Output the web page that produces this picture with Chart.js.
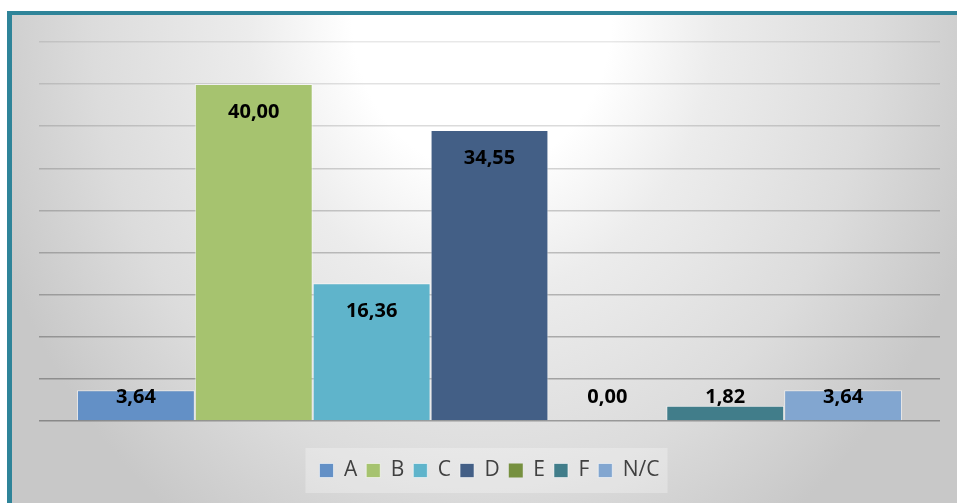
<!DOCTYPE html>
<html>
<head>
<meta charset="utf-8">
<script src="https://cdn.jsdelivr.net/npm/chart.js@4"></script>
<style>
  html, body { margin: 0; padding: 0; background: #ffffff; }
  body { width: 957px; height: 503px; position: relative; overflow: hidden; }
  #frame {
    position: absolute; left: 7px; top: 11px; width: 960px; height: 500px;
    border-left: 5px solid #2f8499; border-top: 4px solid #2f8499;
    background: radial-gradient(ellipse 520px 620px at 470px 0px,
      #ffffff 0%, #ffffff 25%, #ececec 45%, #dcdcdc 75%, #c8c8c8 100%);
  }
  #wrap { position: absolute; left: 0; top: 0; width: 957px; height: 503px; }
</style>
</head>
<body>
<div id="frame"></div>
<div id="wrap"><canvas id="chartNotas" width="957" height="503"></canvas></div>
<script>
const categories = ['A', 'B', 'C', 'D', 'E', 'F', 'N/C'];
const values = [3.64, 40.00, 16.36, 34.55, 0.00, 1.82, 3.64];
const colors = ['#6390c6', '#a6c36f', '#5fb4cb', '#435f86', '#76903f', '#417d8a', '#82a6d0'];

// etiquetas de datos dentro do topo da barra
const rotulos = {
  id: 'rotulos',
  afterDatasetsDraw(chart) {
    const ctx = chart.ctx;
    const base = chart.scales.y.getPixelForValue(0);
    ctx.save();
    ctx.font = 'bold 20px "Open Sans"';
    ctx.fillStyle = '#000000';
    ctx.textAlign = 'center';
    ctx.textBaseline = 'middle';
    chart.data.datasets.forEach(function (ds, i) {
      const bar = chart.getDatasetMeta(i).data[0];
      const y = Math.min(bar.y + 28, base - 24);
      ctx.fillText(ds.data[0].toFixed(2).replace('.', ','), bar.x, y);
    });
    ctx.restore();
  }
};

// fundo claro atrás da legenda
const fundoLegenda = {
  id: 'fundoLegenda',
  beforeDraw(chart) {
    const boxes = chart.legend.legendHitBoxes;
    if (!boxes || !boxes.length) return;
    const first = boxes[0], last = boxes[boxes.length - 1];
    const ctx = chart.ctx;
    ctx.save();
    ctx.fillStyle = 'rgba(255,255,255,0.28)';
    ctx.fillRect(first.left - 14, first.top - 12, last.left + last.width - first.left + 22, first.height + 24);
    ctx.restore();
  }
};

const ctx = document.getElementById('chartNotas').getContext('2d');
new Chart(ctx, {
  type: 'bar',
  data: {
    labels: [''],
    datasets: categories.map(function (c, i) {
      return {
        label: c,
        data: [values[i]],
        backgroundColor: colors[i],
        borderColor: 'rgba(255,255,255,0.55)',
        borderWidth: values[i] === 0 ? 0 : 1,
        categoryPercentage: 0.9157,
        barPercentage: 1
      };
    })
  },
  options: {
    responsive: false,
    animation: false,
    maintainAspectRatio: false,
    layout: { padding: { left: 39, right: 17, top: 42, bottom: 12 } },
    scales: {
      x: {
        display: true,
        ticks: { display: false },
        grid: { display: false },
        border: { display: false },
        afterFit: function (s) { s.height = 30; }
      },
      y: {
        min: 0,
        max: 45,
        ticks: { display: false, stepSize: 5 },
        grid: {
          drawTicks: false,
          lineWidth: 1.5,
          color: function (c) {
            const a = 0.09 + (9 - c.index) * 0.025;
            return 'rgba(0,0,0,' + a.toFixed(3) + ')';
          }
        },
        border: { display: false },
        afterFit: function (s) { s.width = 0; }
      }
    },
    plugins: {
      tooltip: { enabled: false },
      legend: {
        position: 'bottom',
        labels: {
          color: '#404040',
          font: { family: 'Open Sans', size: 21 },
          boxWidth: 14,
          boxHeight: 14,
          padding: 9
        }
      }
    }
  },
  plugins: [rotulos, fundoLegenda]
});
</script>
</body>
</html>
